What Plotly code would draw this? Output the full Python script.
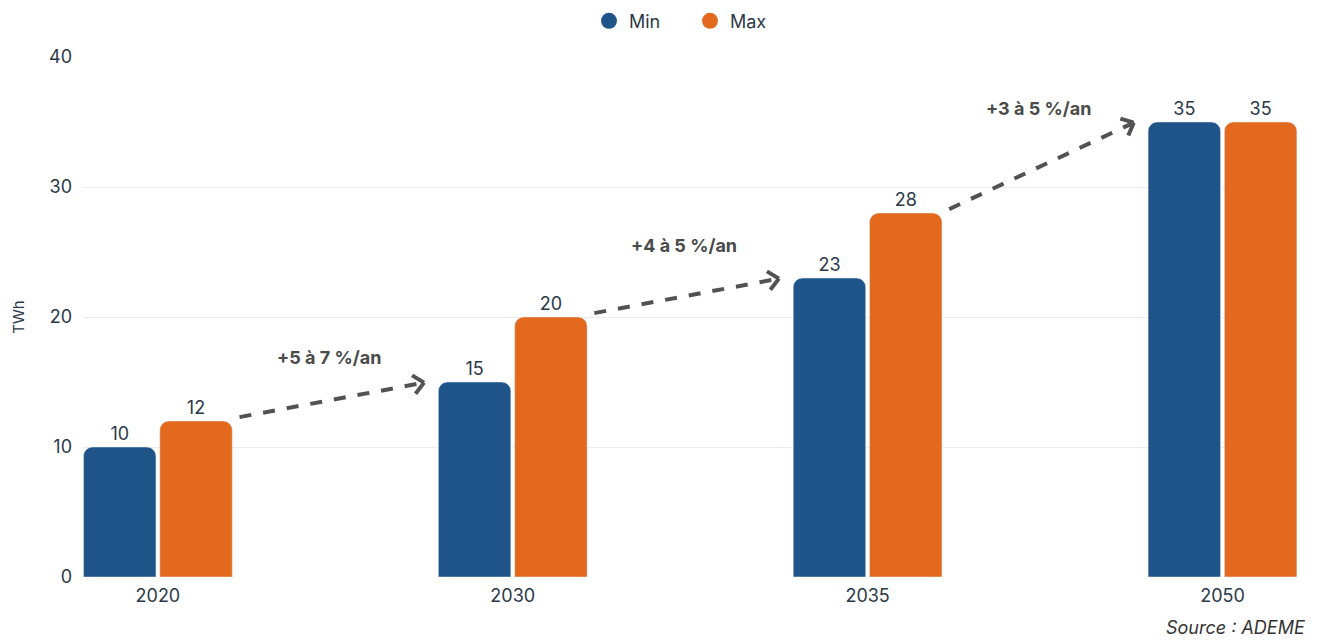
import math
import plotly.graph_objects as go

categories = ["2020", "2030", "2035", "2050"]
min_values = [10, 15, 23, 35]
max_values = [12, 20, 28, 35]
growth_labels = ["+5 à 7 %/an", "+4 à 5 %/an", "+3 à 5 %/an"]
y_ticks = [0, 10, 20, 30, 40]

BLUE = "#1f5489"
ORANGE = "#e2691e"
TEXT = "#2b3848"
ARROW = "#525252"
FONT = "Inter, Roboto, sans-serif"

W, H = 1319, 640
ML, MR, MT, MB = 83, 22, 57, 63
XR = [-0.211, 3.21]
YR = [0, 40]
px_x = (W - ML - MR) / (XR[1] - XR[0])
px_y = (H - MT - MB) / (YR[1] - YR[0])

xs = list(range(len(categories)))

fig = go.Figure()
fig.add_trace(go.Bar(x=xs, y=min_values, name="Min", marker_color=BLUE,
                     text=min_values, textposition="outside", cliponaxis=False,
                     textfont=dict(size=18, color=TEXT, family=FONT), showlegend=False))
fig.add_trace(go.Bar(x=xs, y=max_values, name="Max", marker_color=ORANGE,
                     text=max_values, textposition="outside", cliponaxis=False,
                     textfont=dict(size=18, color=TEXT, family=FONT), showlegend=False))
fig.add_trace(go.Scatter(x=[None], y=[None], mode="markers", name="Min",
                         marker=dict(color=BLUE, size=21, symbol="circle")))
fig.add_trace(go.Scatter(x=[None], y=[None], mode="markers", name="Max",
                         marker=dict(color=ORANGE, size=21, symbol="circle")))

shapes = []
annotations = []
yshifts = [42, 50, 57]
for i, lab in enumerate(growth_labels):
    x0 = i + 0.23
    y0 = max_values[i] + 0.3
    x1 = i + 1 - 0.25
    y1 = min_values[i + 1] - 0.05
    shapes.append(dict(type="line", xref="x", yref="y", x0=x0, y0=y0, x1=x1, y1=y1,
                       line=dict(color=ARROW, width=4, dash="dash")))
    dxp = (x1 - x0) * px_x
    dyp = (y1 - y0) * px_y
    ang = math.atan2(dyp, dxp)
    arm = 14
    for s in (1, -1):
        a = ang + math.pi + s * math.radians(42)
        hx = x1 + arm * math.cos(a) / px_x
        hy = y1 + arm * math.sin(a) / px_y
        shapes.append(dict(type="line", xref="x", yref="y", x0=x1, y0=y1, x1=hx, y1=hy,
                           line=dict(color=ARROW, width=4)))
    annotations.append(dict(x=(x0 + x1) / 2, y=(y0 + y1) / 2, xref="x", yref="y",
                            text=f"<b>{lab}</b>", showarrow=False, yshift=yshifts[i],
                            xshift=-3,
                            font=dict(size=18, color="#4a4a4a", family=FONT)))

annotations.append(dict(x=1, y=0, xref="paper", yref="paper", xanchor="right",
                        yanchor="top", yshift=-38, xshift=10, showarrow=False,
                        text="<i>Source : ADEME</i>",
                        font=dict(size=18, color="#333333", family=FONT)))

fig.update_layout(
    width=W, height=H,
    margin=dict(l=ML, r=MR, t=MT, b=MB, autoexpand=False),
    plot_bgcolor="white", paper_bgcolor="white",
    barmode="group", bargap=0.57, bargroupgap=0.05, barcornerradius=9,
    font=dict(family=FONT, color=TEXT, size=18),
    legend=dict(orientation="h", x=0.5, xanchor="center", y=1.069, yanchor="middle",
                font=dict(size=18, color=TEXT, family=FONT), entrywidth=56),
    xaxis=dict(tickmode="array", tickvals=xs, ticktext=categories,
               range=XR, showgrid=False, zeroline=False,
               tickfont=dict(size=18, color=TEXT), ticks="", ticklabelstandoff=6),
    yaxis=dict(range=YR, tickvals=y_ticks, showgrid=True, gridcolor="#ececec",
               gridwidth=1, zeroline=False, tickfont=dict(size=18, color=TEXT),
               ticklabelstandoff=10,
               title=dict(text="TWh", font=dict(size=15, color=TEXT), standoff=20)),
    shapes=shapes, annotations=annotations,
)

fig.write_html("out.html")
